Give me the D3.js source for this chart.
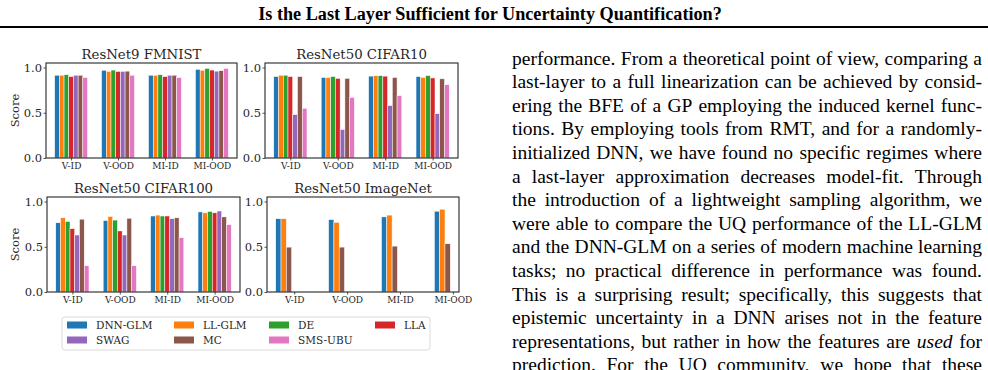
<!DOCTYPE html>
<html>
<head>
<meta charset="utf-8">
<script src="https://cdn.jsdelivr.net/npm/d3@7"></script>
<style>
  body { margin: 0; background: #fff; }
  svg { display: block; }
</style>
</head>
<body>
<svg id="page" width="988" height="370"></svg>
<script>
// ---- data ----
const methods = ["DNN-GLM", "LL-GLM", "DE", "LLA", "SWAG", "MC", "SMS-UBU"]
const methodColors = ["#1f77b4", "#ff7f0e", "#2ca02c", "#d62728", "#9467bd", "#8c564b", "#e377c2"]
const groups = ["V-ID", "V-OOD", "MI-ID", "MI-OOD"]
const yTicks = [0, 0.5, 1.0]

// one row per method, one value per group
const fmnistScores = [
  [0.915, 0.970, 0.915, 0.980],
  [0.915, 0.957, 0.915, 0.970],
  [0.920, 0.972, 0.920, 0.990],
  [0.900, 0.957, 0.900, 0.972],
  [0.915, 0.957, 0.915, 0.960],
  [0.915, 0.960, 0.915, 0.965],
  [0.890, 0.915, 0.890, 0.990]
]
const cifar10Scores = [
  [0.900, 0.890, 0.905, 0.900],
  [0.915, 0.890, 0.910, 0.890],
  [0.915, 0.900, 0.910, 0.910],
  [0.900, 0.880, 0.905, 0.885],
  [0.480, 0.315, 0.580, 0.490],
  [0.900, 0.880, 0.890, 0.875],
  [0.550, 0.670, 0.690, 0.810]
]
const cifar100Scores = [
  [0.765, 0.790, 0.840, 0.885],
  [0.820, 0.835, 0.850, 0.875],
  [0.780, 0.795, 0.840, 0.890],
  [0.700, 0.675, 0.840, 0.875],
  [0.630, 0.630, 0.810, 0.895],
  [0.805, 0.815, 0.820, 0.830],
  [0.290, 0.290, 0.600, 0.745]
]
// ImageNet only has three methods
const imagenetMethods = [0, 1, 5]
const imagenetScores = [
  [0.810, 0.800, 0.830, 0.893],
  [0.810, 0.770, 0.850, 0.915],
  [0.496, 0.496, 0.507, 0.533]
]

const panels = [
  {title: "ResNet9 FMNIST", rows: fmnistScores, ids: [0,1,2,3,4,5,6], box: [46, 63, 237, 158], ylabel: true},
  {title: "ResNet50 CIFAR10", rows: cifar10Scores, ids: [0,1,2,3,4,5,6], box: [265, 63, 458, 158], ylabel: false},
  {title: "ResNet50 CIFAR100", rows: cifar100Scores, ids: [0,1,2,3,4,5,6], box: [47, 197, 240, 292], ylabel: true},
  {title: "ResNet50 ImageNet", rows: imagenetScores, ids: imagenetMethods, box: [267, 197, 459, 292], ylabel: false}
]

const paraLines = [
  "performance. From a theoretical point of view, comparing a",
  "last-layer to a full linearization can be achieved by consid-",
  "ering the BFE of a GP employing the induced kernel func-",
  "tions. By employing tools from RMT, and for a randomly-",
  "initialized DNN, we have found no specific regimes where",
  "a last-layer approximation decreases model-fit. Through",
  "the introduction of a lightweight sampling algorithm, we",
  "were able to compare the UQ performance of the LL-GLM",
  "and the DNN-GLM on a series of modern machine learning",
  "tasks; no practical difference in performance was found.",
  "This is a surprising result; specifically, this suggests that",
  "epistemic uncertainty in a DNN arises not in the feature",
  "representations, but rather in how the features are _used_ for",
  "prediction. For the UQ community, we hope that these"
]

const svg = d3.select("#page")
const ink = "#262626"
const serif = "'DejaVu Serif', serif"
const times = "'Liberation Serif', 'Times New Roman', serif"

// ---- page header ----
svg.append("text")
  .attr("x", 490).attr("y", 20)
  .attr("text-anchor", "middle")
  .attr("font-family", times).attr("font-weight", "bold")
  .attr("font-size", 18.2).attr("fill", "#000")
  .text("Is the Last Layer Sufficient for Uncertainty Quantification?")
svg.append("line")
  .attr("x1", 0).attr("x2", 988).attr("y1", 27).attr("y2", 27)
  .attr("stroke", "#000").attr("stroke-width", 1.8)

// ---- bar panels ----
const barW = 0.1
panels.forEach(p => {
  const [x0, y0, x1, y1] = p.box
  const n = p.rows.length
  // matplotlib-like 5% margins around the bar extents
  const lo = -3 * barW - barW / 2
  const hi = 3 + (n - 1 - 3) * barW + barW / 2
  const pad = (hi - lo) * 0.05
  const x = d3.scaleLinear().domain([lo - pad, hi + pad]).range([x0, x1])
  const y = d3.scaleLinear().domain([0, 1.05]).range([y1, y0])

  const g = svg.append("g")

  const bars = []
  p.rows.forEach((row, i) => row.forEach((v, j) => bars.push({m: p.ids[i], slot: i, grp: j, v: v})))

  g.append("g").selectAll("rect").data(bars).enter().append("rect")
    .attr("x", d => x(d.grp + (d.slot - 3) * barW - barW / 2))
    .attr("width", d => x(barW) - x(0))
    .attr("y", d => y(d.v))
    .attr("height", d => y(0) - y(d.v))
    .attr("fill", d => methodColors[d.m])
    .attr("stroke", "#fff").attr("stroke-width", 0.5)

  const yAxis = g.append("g")
    .attr("transform", `translate(${x0},0)`)
    .call(d3.axisLeft(y).tickValues(yTicks).tickFormat(d3.format(".1f")).tickSize(2.5).tickPadding(1.5))
  const xAxis = g.append("g")
    .attr("transform", `translate(0,${y1})`)
    .call(d3.axisBottom(x).tickValues([0, 1, 2, 3]).tickFormat(i => groups[i]).tickSize(2.5).tickPadding(2))
  ;[yAxis, xAxis].forEach(a => {
    a.select(".domain").remove()
    a.selectAll("line").attr("stroke", ink).attr("stroke-width", 0.8)
    a.selectAll("text").attr("fill", ink).attr("font-family", serif)
  })
  yAxis.selectAll("text").attr("font-size", 11.5)
  xAxis.selectAll("text").attr("font-size", 9)

  g.append("rect")
    .attr("x", x0).attr("y", y0).attr("width", x1 - x0).attr("height", y1 - y0)
    .attr("fill", "none").attr("stroke", ink).attr("stroke-width", 1.1)

  g.append("text")
    .attr("x", (x0 + x1) / 2).attr("y", y0 - 4)
    .attr("text-anchor", "middle")
    .attr("font-family", serif).attr("font-size", 13.3).attr("fill", ink)
    .text(p.title)

  if (p.ylabel) {
    g.append("text")
      .attr("transform", `translate(19,${(y0 + y1) / 2}) rotate(-90)`)
      .attr("text-anchor", "middle")
      .attr("font-family", serif).attr("font-size", 11.5).attr("fill", ink)
      .text("Score")
  }
})

// ---- legend ----
const legend = svg.append("g")
legend.append("rect")
  .attr("x", 62).attr("y", 317).attr("width", 368).attr("height", 33)
  .attr("rx", 3).attr("fill", "#fff").attr("stroke", "#d0d0d0").attr("stroke-width", 0.8)
const colX = [67, 174, 269, 375]
methods.forEach((m, i) => {
  const cx = colX[i % 4], cy = i < 4 ? 325 : 340
  legend.append("rect")
    .attr("x", cx).attr("y", cy - 3.5).attr("width", 20).attr("height", 7)
    .attr("fill", methodColors[i])
  legend.append("text")
    .attr("x", cx + 29).attr("y", cy + 3.8)
    .attr("font-family", serif).attr("font-size", 10.5).attr("fill", ink)
    .text(m)
})

// ---- justified body text on the right (last line runs off the page, as in the source) ----
const textLeft = 512, textRight = 982
paraLines.forEach((line, i) => {
  const base = 64.5 + i * 23.6
  const words = line.split(" ")
  const nodes = words.map(w => {
    const it = w.indexOf("_") >= 0
    return svg.append("text")
      .attr("y", base)
      .attr("font-family", times).attr("font-size", 19.5).attr("fill", "#000")
      .attr("font-style", it ? "italic" : "normal")
      .text(w.replace(/_/g, ""))
  })
  const widths = nodes.map(t => t.node().getComputedTextLength())
  const gap = (textRight - textLeft - d3.sum(widths)) / (words.length - 1)
  let cur = textLeft
  nodes.forEach((t, k) => { t.attr("x", cur); cur += widths[k] + gap })
})
</script>
</body>
</html>
